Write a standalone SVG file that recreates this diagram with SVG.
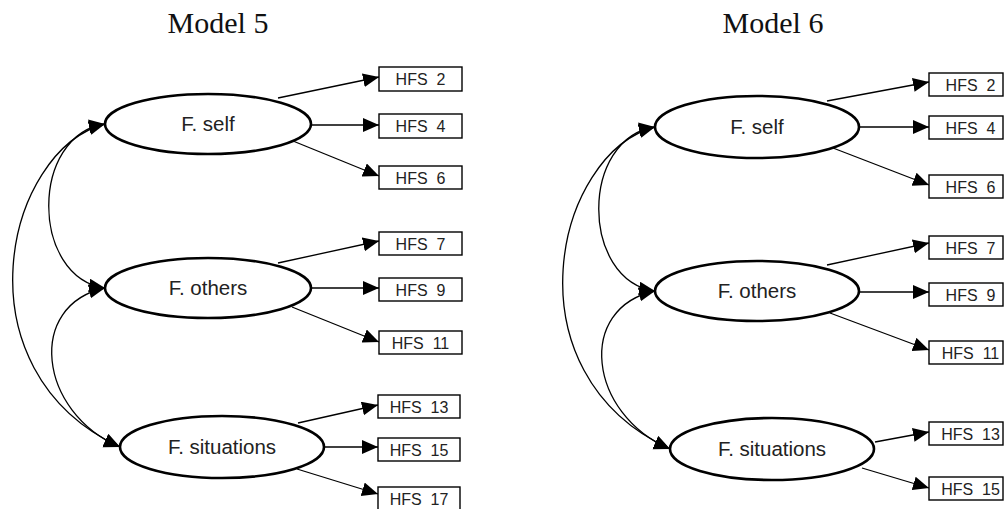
<svg xmlns="http://www.w3.org/2000/svg" width="1004" height="509" viewBox="0 0 1004 509">
<style>
.title{font-family:"Liberation Serif",serif;font-size:30px;fill:#111;text-anchor:middle}
.lat ellipse{fill:#fff;stroke:#000;stroke-width:2.6}
.lat text{font-family:"Liberation Sans",Arial,sans-serif;font-size:20.5px;fill:#222;text-anchor:middle}
.obs rect{fill:#fff;stroke:#000;stroke-width:1.4}
.obs text{font-family:"Liberation Sans",Arial,sans-serif;font-size:16px;fill:#222;text-anchor:middle}
.conn path{fill:none;stroke:#000;stroke-width:1.3}
.conn .load{marker-end:url(#ah)}
.conn .cov{marker-start:url(#ah);marker-end:url(#ah)}
</style>
<defs>
<marker id="ah" markerUnits="userSpaceOnUse" markerWidth="17" markerHeight="15" refX="16" refY="7" orient="auto-start-reverse" viewBox="0 0 17 15">
<path d="M0,0 L16,7 L0,14 z" fill="#000"/>
</marker>
</defs>
<rect width="1004" height="509" fill="#fff"/>
<text class="title" x="218" y="33">Model 5</text>
<text class="title" x="773" y="33">Model 6</text>

<g id="connectors" class="conn">
<!-- Model 5 loadings -->
<path class="load" d="M278,98 L379,77"/>
<path class="load" d="M312,125 L379,125"/>
<path class="load" d="M293,141 L379,176"/>
<path class="load" d="M278,263 L379,241"/>
<path class="load" d="M312,288 L379,288"/>
<path class="load" d="M292,307 L379,342"/>
<path class="load" d="M298,423 L378,405"/>
<path class="load" d="M325,447 L378,447"/>
<path class="load" d="M297,469 L378,494"/>
<!-- Model 5 covariances -->
<path class="cov" d="M105,124 C30,135 30,277 105,288"/>
<path class="cov" d="M105,288 C26,305 38,412 120,447"/>
<path class="cov" d="M105,124 C5,150 -45,370 120,447"/>
<!-- Model 6 loadings -->
<path class="load" d="M827,101 L929,82"/>
<path class="load" d="M860,127 L929,127"/>
<path class="load" d="M833,148 L929,185"/>
<path class="load" d="M827,265 L929,243"/>
<path class="load" d="M860,292 L929,292"/>
<path class="load" d="M830,313 L929,350"/>
<path class="load" d="M875,442 L929,432"/>
<path class="load" d="M862,468 L929,488"/>
<!-- Model 6 covariances -->
<path class="cov" d="M655,127 C580,138 580,280 655,291"/>
<path class="cov" d="M655,291 C576,308 588,414 670,449"/>
<path class="cov" d="M655,127 C555,153 505,373 670,449"/>
</g>

<g id="m5_self" class="lat"><ellipse cx="208" cy="124" rx="103" ry="30"/><text x="208" y="131">F. self</text></g>
<g id="m5_others" class="lat"><ellipse cx="208" cy="288" rx="103" ry="30"/><text x="208" y="295">F. others</text></g>
<g id="m5_situations" class="lat"><ellipse cx="222" cy="447" rx="102" ry="31"/><text x="222" y="454">F. situations</text></g>

<g id="m5_hfs2" class="obs"><rect x="379" y="67" width="83" height="24"/><text x="420.5" y="85" xml:space="preserve">HFS  2</text></g>
<g id="m5_hfs4" class="obs"><rect x="379" y="114" width="83" height="24"/><text x="420.5" y="132" xml:space="preserve">HFS  4</text></g>
<g id="m5_hfs6" class="obs"><rect x="379" y="166" width="83" height="23"/><text x="420.5" y="183.5" xml:space="preserve">HFS  6</text></g>
<g id="m5_hfs7" class="obs"><rect x="379" y="232" width="83" height="23"/><text x="420.5" y="249.5" xml:space="preserve">HFS  7</text></g>
<g id="m5_hfs9" class="obs"><rect x="379" y="278" width="83" height="23"/><text x="420.5" y="295.5" xml:space="preserve">HFS  9</text></g>
<g id="m5_hfs11" class="obs"><rect x="379" y="331" width="83" height="23"/><text x="420.5" y="348.5" xml:space="preserve">HFS  11</text></g>
<g id="m5_hfs13" class="obs"><rect x="378" y="395" width="82" height="23"/><text x="419" y="412.5" xml:space="preserve">HFS  13</text></g>
<g id="m5_hfs15" class="obs"><rect x="378" y="438" width="82" height="23"/><text x="419" y="455.5" xml:space="preserve">HFS  15</text></g>
<g id="m5_hfs17" class="obs"><rect x="378" y="487" width="82" height="23"/><text x="419" y="504.5" xml:space="preserve">HFS  17</text></g>

<g id="m6_self" class="lat"><ellipse cx="757" cy="127" rx="102" ry="31"/><text x="757" y="134">F. self</text></g>
<g id="m6_others" class="lat"><ellipse cx="757" cy="291" rx="102" ry="30"/><text x="757" y="298">F. others</text></g>
<g id="m6_situations" class="lat"><ellipse cx="772" cy="449" rx="102" ry="31"/><text x="772" y="456">F. situations</text></g>

<g id="m6_hfs2" class="obs"><rect x="929" y="73" width="74" height="23"/><text x="970.5" y="90.5" xml:space="preserve">HFS  2</text></g>
<g id="m6_hfs4" class="obs"><rect x="929" y="116" width="74" height="23"/><text x="970.5" y="133.5" xml:space="preserve">HFS  4</text></g>
<g id="m6_hfs6" class="obs"><rect x="929" y="175" width="74" height="23"/><text x="970.5" y="192.5" xml:space="preserve">HFS  6</text></g>
<g id="m6_hfs7" class="obs"><rect x="929" y="236" width="74" height="23"/><text x="970.5" y="253.5" xml:space="preserve">HFS  7</text></g>
<g id="m6_hfs9" class="obs"><rect x="929" y="283" width="74" height="23"/><text x="970.5" y="300.5" xml:space="preserve">HFS  9</text></g>
<g id="m6_hfs11" class="obs"><rect x="929" y="341" width="74" height="23"/><text x="970.5" y="358.5" xml:space="preserve">HFS  11</text></g>
<g id="m6_hfs13" class="obs"><rect x="929" y="422" width="74" height="23"/><text x="970.5" y="439.5" xml:space="preserve">HFS  13</text></g>
<g id="m6_hfs15" class="obs"><rect x="929" y="477" width="74" height="23"/><text x="970.5" y="494.5" xml:space="preserve">HFS  15</text></g>
</svg>
